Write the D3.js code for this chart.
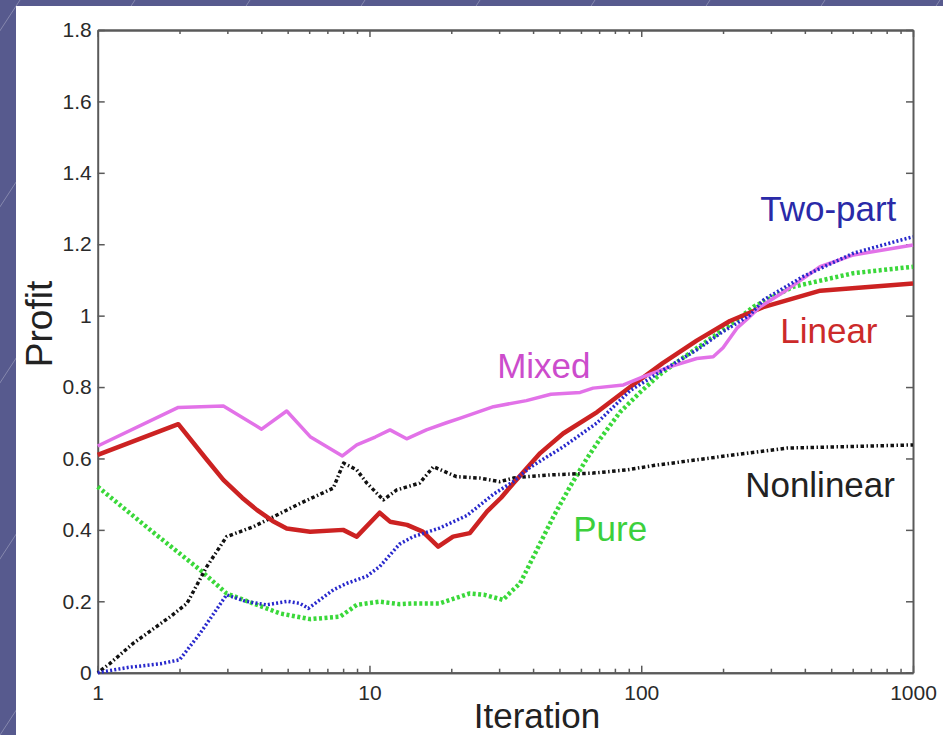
<!DOCTYPE html>
<html>
<head>
<meta charset="utf-8">
<script src="https://cdn.jsdelivr.net/npm/d3@7"></script>
<style>
html, body { margin: 0; padding: 0; background: #575a8e; }
svg { display: block; }
text { font-family: "Liberation Sans", Arial, Helvetica, sans-serif; }
</style>
</head>
<body>
<svg id="chart" width="943" height="735"></svg>
<script>
// values: [iteration, profit]
const linear = [[1,0.61],[1.98,0.696],[2.5,0.60],[2.9,0.54],[3.4,0.49],[3.85,0.456],[4.4,0.425],[4.96,0.404],[6.05,0.395],[8,0.40],[8.98,0.381],
  [10.9,0.448],[11.9,0.423],[13.75,0.414],[15.7,0.395],[17.9,0.353],[20.3,0.381],[23.4,0.391],[27.1,0.452],[30.5,0.49],[33.8,0.53],
  [42.5,0.615],[51.6,0.67],[68.8,0.73],[91,0.80],[120,0.867],[160,0.93],[212,0.985],[281,1.024],[456,1.07],[1000,1.09]];

const mixed = [[1,0.635],[1.98,0.743],[2.9,0.747],[4.01,0.682],[4.96,0.733],[6.05,0.661],[7.95,0.607],[8.98,0.638],[10.5,0.66],
  [11.9,0.68],[13.7,0.655],[16.2,0.68],[19.2,0.70],[21.6,0.713],[28.6,0.745],[37.8,0.762],[46.5,0.78],[59.6,0.785],[66.5,0.797],
  [86,0.806],[102,0.829],[128,0.857],[160,0.88],[184,0.885],[200,0.91],[225,0.965],[245,0.99],[274,1.025],[343,1.072],[455,1.137],
  [604,1.17],[1000,1.198]];

const twoPart = [[1,0],[1.3,0.015],[1.7,0.025],[2.0,0.036],[2.38,0.11],[2.98,0.218],[3.5,0.2],[4.18,0.19],[5.0,0.2],[5.55,0.194],
  [5.96,0.18],[7.36,0.232],[8.24,0.25],[9.76,0.27],[10.9,0.297],[12.9,0.36],[14.5,0.381],[18.1,0.405],[22.8,0.44],[28.6,0.50],
  [33.8,0.535],[39,0.575],[51.7,0.633],[68.6,0.699],[91,0.79],[120.7,0.848],[160,0.904],[195,0.95],[251.7,1.002],[281.7,1.044],
  [395,1.11],[604,1.175],[1000,1.221]];

const pure = [[1,0.521],[1.56,0.40],[2.38,0.288],[2.98,0.222],[4.18,0.18],[4.69,0.166],[6.05,0.15],[7.8,0.157],[8.98,0.19],
  [10.9,0.199],[12.9,0.192],[14.5,0.194],[18.1,0.194],[23.4,0.222],[26.5,0.218],[31,0.204],[33,0.225],[35.8,0.25],[41.3,0.344],
  [47.5,0.437],[54.7,0.521],[63.1,0.6],[70.6,0.655],[83.6,0.73],[99,0.785],[117,0.835],[139,0.876],[184,0.941],[225,0.988],
  [259,1.025],[363,1.081],[604,1.119],[1000,1.137]];

const nonlinear = [[1,0],[1.11,0.026],[1.35,0.082],[1.85,0.157],[2.13,0.194],[2.52,0.297],[2.98,0.381],[3.74,0.409],[4.31,0.432],
  [5.55,0.474],[7.36,0.517],[8.03,0.587],[8.98,0.568],[9.78,0.531],[11.25,0.484],[12.6,0.512],[15.3,0.531],[17.2,0.577],
  [20.9,0.549],[25.5,0.545],[30.2,0.535],[33.8,0.545],[37.8,0.549],[46.5,0.554],[66.5,0.559],[88.5,0.568],[110.6,0.58],
  [195,0.605],[343,0.629],[1000,0.638]];

const xTicks = [1, 10, 100, 1000];
const yTicks = [0, 0.2, 0.4, 0.6, 0.8, 1, 1.2, 1.4, 1.6, 1.8];

const series = [
  { name: "Pure", data: pure, color: "#3ad83a", width: 4.5, dash: "3,2.5", label: [56.2, 0.3675], labelColor: "#3cd03c" },
  { name: "Nonlinear", data: nonlinear, color: "#111", width: 3.5, dash: "1.5,2.5,3.5,2.5", label: [241.2, 0.492], labelColor: "#222" },
  { name: "Linear", data: linear, color: "#cc2222", width: 4.5, dash: null, label: [324.7, 0.923], labelColor: "#cc2a2a" },
  { name: "Mixed", data: mixed, color: "#e272e8", width: 3.5, dash: null, label: [29.5, 0.825], labelColor: "#cc4ccc" },
  { name: "Two-part", data: twoPart, color: "#2828cc", width: 3.5, dash: "2,2.2", label: [274, 1.265], labelColor: "#2a2aa8" }
];

const svg = d3.select("#chart");

// slide background: diagonal lines, white panel
const bg = svg.append("g");
for (let k = -8; k < 14; k++) {
  bg.append("line")
    .attr("x1", k * 115).attr("y1", 735)
    .attr("x2", k * 115 + 480).attr("y2", 0)
    .attr("stroke", "rgba(255,255,255,0.28)")
    .attr("stroke-width", 1);
}
bg.append("rect").attr("x", 16).attr("y", 6).attr("width", 927).attr("height", 729).attr("fill", "#fff");

var margin = { top: 30, right: 30, bottom: 62.3, left: 97.7 };
var width = 943 - margin.left - margin.right,
    height = 735 - margin.top - margin.bottom;

const x = d3.scaleLog().domain([1, 1000]).range([margin.left, margin.left + width]);
const y = d3.scaleLinear().domain([0, 1.8]).range([margin.top + height, margin.top]);

const minorTicks = [];
[1, 10, 100].forEach(d => { for (let m = 2; m <= 9; m++) minorTicks.push(d * m); });

function styleAxis(g) {
  g.select(".domain").attr("stroke", "#5a5a5a").attr("stroke-width", 2);
  g.selectAll(".tick line").attr("stroke", "#5a5a5a").attr("stroke-width", 1.5);
  g.selectAll(".tick text").attr("fill", "#2a2a2a").style("font-size", "21px")
    .style("font-family", '"Liberation Sans", Arial, sans-serif');
}

// bottom axis
svg.append("g").attr("transform", `translate(0,${y(0)})`)
  .call(d3.axisBottom(x).tickValues(xTicks).tickFormat(d3.format("d")).tickSizeInner(-7).tickSizeOuter(0).tickPadding(12))
  .call(styleAxis);
svg.append("g").attr("transform", `translate(0,${y(0)})`)
  .call(d3.axisBottom(x).tickValues(minorTicks).tickFormat("").tickSizeInner(-4).tickSizeOuter(0))
  .call(styleAxis);
// top axis
svg.append("g").attr("transform", `translate(0,${y(1.8)})`)
  .call(d3.axisTop(x).tickValues(xTicks).tickFormat("").tickSizeInner(-7).tickSizeOuter(0))
  .call(styleAxis);
svg.append("g").attr("transform", `translate(0,${y(1.8)})`)
  .call(d3.axisTop(x).tickValues(minorTicks).tickFormat("").tickSizeInner(-4).tickSizeOuter(0))
  .call(styleAxis);
// left and right axes
svg.append("g").attr("transform", `translate(${x(1)},0)`)
  .call(d3.axisLeft(y).tickValues(yTicks).tickFormat(d3.format("~g")).tickSizeInner(-7).tickSizeOuter(0).tickPadding(6))
  .call(styleAxis);
svg.append("g").attr("transform", `translate(${x(1000)},0)`)
  .call(d3.axisRight(y).tickValues(yTicks).tickFormat("").tickSizeInner(-7).tickSizeOuter(0))
  .call(styleAxis);

// lines
const line = d3.line().x(d => x(d[0])).y(d => y(d[1]));

svg.append("g")
  .selectAll("path")
  .data(series)
  .enter()
  .append("path")
  .attr("d", d => line(d.data))
  .attr("fill", "none")
  .attr("stroke", d => d.color)
  .attr("stroke-width", d => d.width)
  .attr("stroke-dasharray", d => d.dash)
  .attr("stroke-linejoin", "round");

// series labels
svg.append("g")
  .selectAll("text")
  .data(series)
  .enter()
  .append("text")
  .attr("x", d => x(d.label[0]))
  .attr("y", d => y(d.label[1]))
  .attr("fill", d => d.labelColor)
  .style("font-size", "35px")
  .text(d => d.name);

// axis titles
svg.append("text")
  .attr("x", 537).attr("y", 728)
  .attr("text-anchor", "middle")
  .attr("fill", "#222")
  .style("font-size", "35px")
  .text("Iteration");

svg.append("text")
  .attr("transform", "translate(52,324) rotate(-90)")
  .attr("text-anchor", "middle")
  .attr("fill", "#222")
  .style("font-size", "37px")
  .text("Profit");
</script>
</body>
</html>
